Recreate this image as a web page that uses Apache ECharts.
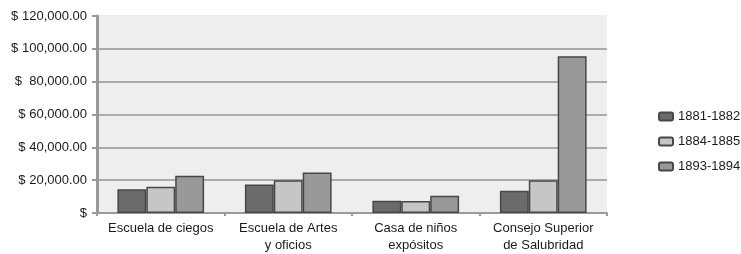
<!DOCTYPE html>
<html><head><meta charset="utf-8">
<script src="https://cdn.jsdelivr.net/npm/echarts@6/dist/echarts.min.js"></script>
<style>html,body{margin:0;padding:0;background:#fff}#c{width:741px;height:254px}</style>
</head><body><div id="c"></div>
<script>
const categories = ["Escuela de ciegos", "Escuela de Artes\ny oficios", "Casa de niños\nexpósitos", "Consejo Superior\nde Salubridad"];
const seriesNames = ["1881-1882", "1884-1885", "1893-1894"];
const s1881 = [14400, 17400, 7500, 13500];
const s1884 = [16000, 20000, 7300, 20000];
const s1893 = [22700, 24700, 10500, 95500];
const yTicks = {0: "$", 20000: "$ 20,000.00", 40000: "$ 40,000.00", 60000: "$ 60,000.00", 80000: "$  80,000.00", 100000: "$ 100,000.00", 120000: "$ 120,000.00"};
const colors = ["#6b6b6b", "#c6c6c6", "#999999"];
const font = "'Liberation Sans', Arial, sans-serif";

const chart = echarts.init(document.getElementById('c'), null, {renderer: 'canvas'});
chart.setOption({
  animation: false,
  textStyle: {fontFamily: font},
  legend: {
    orient: 'vertical', left: 653, top: 105, itemGap: 12,
    itemWidth: 14, itemHeight: 8,
    textStyle: {fontFamily: font, fontSize: 13, color: '#1a1a1a'},
    data: seriesNames
  },
  grid: {left: 97, top: 16, right: 134, bottom: 37, show: true, backgroundColor: '#eeeeee', borderWidth: 0},
  xAxis: {
    type: 'category', data: categories,
    axisLine: {lineStyle: {color: '#999', width: 2}},
    axisTick: {show: true, length: 3, lineStyle: {color: '#999', width: 2}},
    axisLabel: {interval: 0, fontFamily: font, fontSize: 13, color: '#1a1a1a', lineHeight: 17, margin: 7}
  },
  yAxis: {
    type: 'value', min: 0, max: 120000, interval: 20000,
    axisLine: {show: true, lineStyle: {color: '#999', width: 3}},
    axisTick: {show: true, length: 5, lineStyle: {color: '#999', width: 2}},
    splitLine: {lineStyle: {color: ['#aaa', '#aaa', '#aaa', '#aaa', '#aaa', '#aaa', '#eeeeee'], width: 2}},
    axisLabel: {fontFamily: font, fontSize: 13, color: '#1a1a1a', margin: 10, formatter: v => yTicks[v]}
  },
  series: [s1881, s1884, s1893].map((d, i) => ({
    name: seriesNames[i], type: 'bar', data: d,
    barGap: '0%', barCategoryGap: '32%',
    itemStyle: {color: colors[i], borderColor: '#474747', borderWidth: 1.5}
  }))
});
</script></body></html>
